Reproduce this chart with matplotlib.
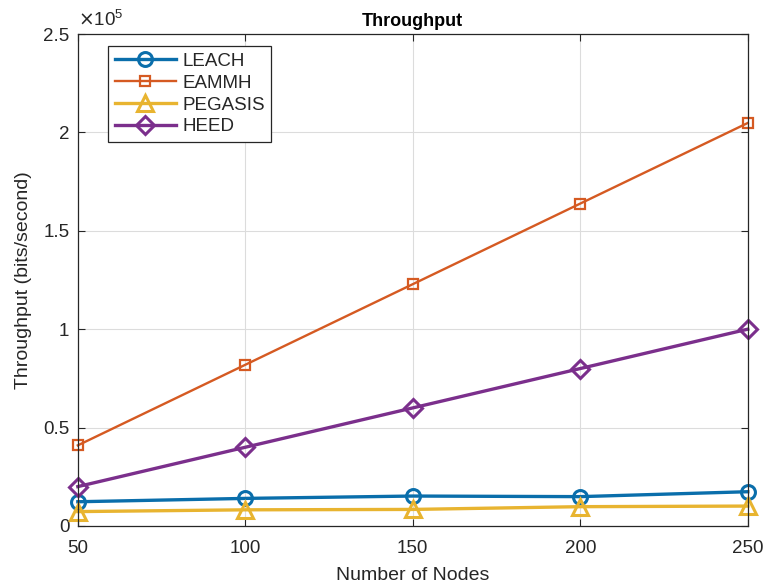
import numpy as np
import matplotlib
matplotlib.use("Agg")
import matplotlib.pyplot as plt
from matplotlib.ticker import FuncFormatter

plt.rcParams['font.family'] = ['Liberation Sans', 'DejaVu Sans']

# data (bits/second)
nodes = [50, 100, 150, 200, 250]
leach = [12300, 14000, 15200, 14900, 17400]
eammh = [40960, 81920, 122880, 163840, 204800]
pegasis = [7300, 8200, 8400, 9800, 10100]
heed = [20000, 40000, 60000, 80000, 100000]

x_ticks = [50, 100, 150, 200, 250]
y_ticks = [0, 50000, 100000, 150000, 200000, 250000]

c_blue = '#0a6eab'
c_orange = '#d55a22'
c_yellow = '#e8b430'
c_purple = '#7b2f8c'
txt = '#262626'

fig = plt.figure(figsize=(7.63, 5.87), dpi=100)
ax = fig.add_axes([0.102, 0.104, 0.878, 0.838])

ax.plot(nodes, leach, '-o', color=c_blue, lw=2.4, ms=10, mfc='none', mew=2.2, label='LEACH', clip_on=False)
ax.plot(nodes, eammh, '-s', color=c_orange, lw=1.7, ms=7, mfc='none', mew=1.6, label='EAMMH', clip_on=False)
ax.plot(nodes, pegasis, '-^', color=c_yellow, lw=2.4, ms=11, mfc='none', mew=2.2, label='PEGASIS', clip_on=False)
ax.plot(nodes, heed, '-D', color=c_purple, lw=2.4, ms=9, mfc='none', mew=2.2, label='HEED', clip_on=False)

ax.set_xlim(50, 250)
ax.set_ylim(0, 250000)
ax.set_xticks(x_ticks)
ax.set_yticks(y_ticks)
ax.yaxis.set_major_formatter(FuncFormatter(lambda v, p: f"{v / 1e5:g}"))
ax.grid(True, color='#dcdcdc', lw=0.8)
ax.set_axisbelow(True)
ax.tick_params(direction='in', length=5, labelsize=13.5, colors=txt, top=True, right=True,
               labeltop=False, labelright=False)
ax.tick_params(axis='x', pad=10)
ax.tick_params(axis='y', pad=6)
for s in ax.spines.values():
    s.set_color(txt)
    s.set_linewidth(0.9)

ax.text(0.0, 1.008, r'$\times\mathregular{10^5}$', transform=ax.transAxes, fontsize=13.5, color=txt,
        ha='left', va='bottom')
ax.set_title('Throughput', fontsize=13, fontweight='bold', pad=6)
ax.set_xlabel('Number of Nodes', fontsize=14, color=txt, labelpad=7)
ax.set_ylabel('Throughput (bits/second)', fontsize=14, color=txt, labelpad=8)

leg = ax.legend(loc='upper left', bbox_to_anchor=(0.045, 0.975), fontsize=13.5,
                handlelength=3.3, borderpad=0.35, labelspacing=0.25, handletextpad=0.3,
                borderaxespad=0, fancybox=False, framealpha=1, edgecolor=txt)
leg.get_frame().set_linewidth(0.9)
for t in leg.get_texts():
    t.set_color(txt)

fig.savefig('out.png', dpi=100)
